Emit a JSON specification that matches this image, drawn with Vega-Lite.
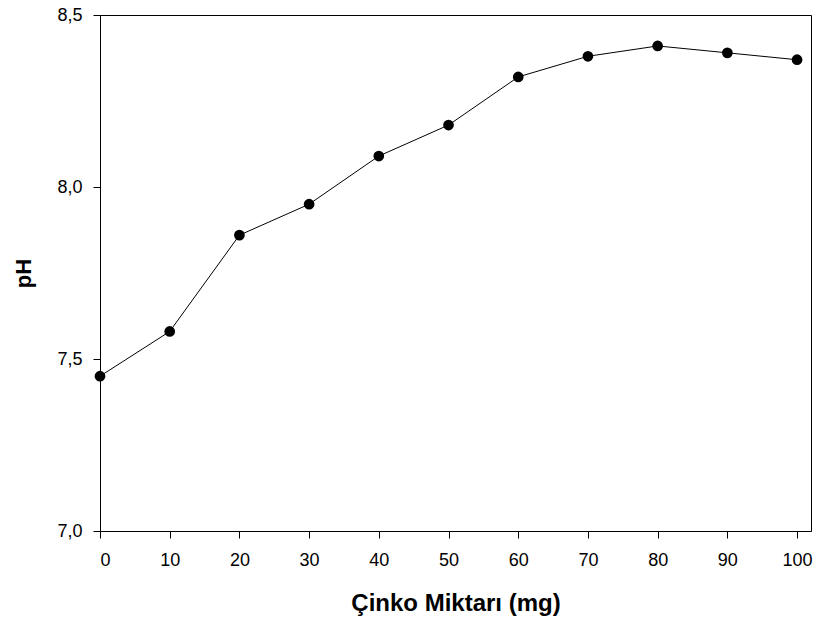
{
  "$schema": "https://vega.github.io/schema/vega-lite/v6.json",
  "autosize": {"type": "none"},
  "padding": {"left": 100, "top": 15, "right": 3, "bottom": 91},
  "width": 711,
  "height": 516,
  "background": "white",
  "config": {
    "view": {"stroke": "black", "strokeWidth": 1}
  },
  "data": {
    "values": [
      {"zn": 0, "ph": 7.45},
      {"zn": 10, "ph": 7.58},
      {"zn": 20, "ph": 7.86},
      {"zn": 30, "ph": 7.95},
      {"zn": 40, "ph": 8.09},
      {"zn": 50, "ph": 8.18},
      {"zn": 60, "ph": 8.32},
      {"zn": 70, "ph": 8.38},
      {"zn": 80, "ph": 8.41},
      {"zn": 90, "ph": 8.39},
      {"zn": 100, "ph": 8.37}
    ]
  },
  "encoding": {
    "x": {
      "field": "zn",
      "type": "quantitative",
      "scale": {"domain": [0, 102], "nice": false, "zero": false},
      "axis": {
        "title": "Çinko Miktarı (mg)",
        "values": [0, 10, 20, 30, 40, 50, 60, 70, 80, 90, 100],
        "grid": false,
        "domainColor": "black",
        "tickColor": "black",
        "tickSize": 7,
        "labelColor": "black",
        "titleColor": "black",
        "labelFont": "Liberation Sans",
        "titleFont": "Liberation Sans",
        "labelFontSize": 18,
        "titleFontSize": 24,
        "titleFontWeight": "bold",
        "labelPadding": 13,
        "titlePadding": 22
      }
    },
    "y": {
      "field": "ph",
      "type": "quantitative",
      "scale": {"domain": [7.0, 8.5], "nice": false, "zero": false},
      "axis": {
        "title": "pH",
        "values": [7.0, 7.5, 8.0, 8.5],
        "labelExpr": "replace(format(datum.value, '.1f'), '.', ',')",
        "grid": false,
        "domainColor": "black",
        "tickColor": "black",
        "tickSize": 7,
        "labelColor": "black",
        "titleColor": "black",
        "labelFont": "Liberation Sans",
        "titleFont": "Liberation Sans",
        "labelFontSize": 18,
        "titleFontSize": 22,
        "titleFontWeight": "bold",
        "labelPadding": 11,
        "titlePadding": 21
      }
    }
  },
  "layer": [
    {"mark": {"type": "line", "color": "black", "strokeWidth": 1}},
    {"mark": {"type": "point", "filled": true, "color": "black", "opacity": 1, "size": 115}}
  ]
}
